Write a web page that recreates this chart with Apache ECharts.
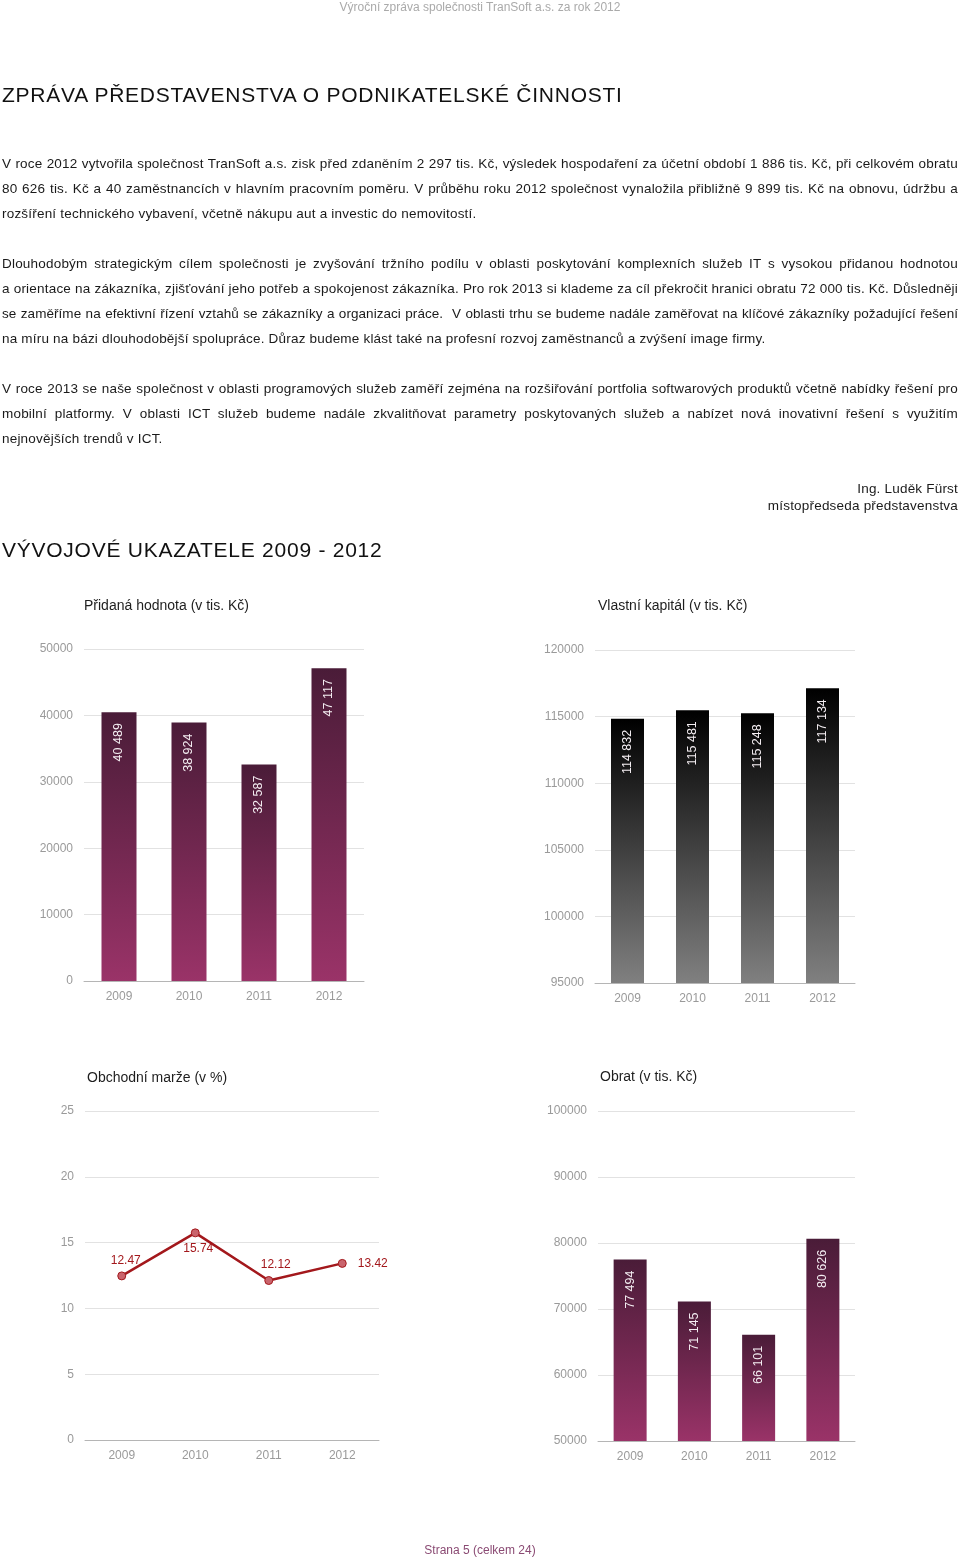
<!DOCTYPE html>
<html>
<head>
<meta charset="utf-8">
<script src="https://cdn.jsdelivr.net/npm/echarts@6/dist/echarts.min.js"></script>
<style>
  html, body { margin:0; padding:0; background:#fff; }
  body { width:960px; height:1559px; position:relative; overflow:hidden; font-family:"Liberation Sans", Arial, sans-serif; }
  #chart { position:absolute; left:0; top:0; width:960px; height:1559px; }
  .t { position:absolute; white-space:nowrap; color:#111; }
  .hdr { left:0; width:960px; top:0; text-align:center; font-size:12px; color:#aaa; }
  .h1 { left:2px; font-size:21px; letter-spacing:0.75px; color:#111; }
  .para { position:absolute; left:2px; width:956px; font-size:13.5px; letter-spacing:0.2px; color:#1a1a1a; }
  .ln { height:25px; line-height:25px; text-align:justify; text-align-last:justify; white-space:nowrap; }
  .ln.last { text-align:left; text-align-last:left; }
  .ln.tight { letter-spacing:0.05px; }
  .sig { right:2px; font-size:13.5px; letter-spacing:0.2px; text-align:right; color:#1a1a1a; }
  .foot { left:0; width:960px; top:1543px; text-align:center; font-size:12px; color:#8a4a73; }
</style>
</head>
<body>
<div id="chart"></div>
<div class="t hdr">Výroční zpráva společnosti TranSoft a.s. za rok 2012</div>
<div class="t h1" style="top:83px;">ZPRÁVA PŘEDSTAVENSTVA O PODNIKATELSKÉ ČINNOSTI</div>
<div class="para" style="top:151px;">
  <div class="ln">V roce 2012 vytvořila společnost TranSoft a.s. zisk před zdaněním 2 297 tis. Kč, výsledek hospodaření za účetní období 1 886 tis. Kč, při celkovém obratu</div>
  <div class="ln">80 626 tis. Kč a 40 zaměstnancích v hlavním pracovním poměru. V průběhu roku 2012 společnost vynaložila přibližně 9 899 tis. Kč na obnovu, údržbu a</div>
  <div class="ln last">rozšíření technického vybavení, včetně nákupu aut a investic do nemovitostí.</div>
</div>
<div class="para" style="top:251px;">
  <div class="ln">Dlouhodobým strategickým cílem společnosti je zvyšování tržního podílu v oblasti poskytování komplexních služeb IT s vysokou přidanou hodnotou</div>
  <div class="ln">a orientace na zákazníka, zjišťování jeho potřeb a spokojenost zákazníka. Pro rok 2013 si klademe za cíl překročit hranici obratu 72 000 tis. Kč. Důsledněji</div>
  <div class="ln tight">se zaměříme na efektivní řízení vztahů se zákazníky a organizaci práce.&nbsp; V oblasti trhu se budeme nadále zaměřovat na klíčové zákazníky požadující řešení</div>
  <div class="ln last">na míru na bázi dlouhodobější spolupráce. Důraz budeme klást také na profesní rozvoj zaměstnanců a zvýšení image firmy.</div>
</div>
<div class="para" style="top:376px;">
  <div class="ln">V roce 2013 se naše společnost v oblasti programových služeb zaměří zejména na rozšiřování portfolia softwarových produktů včetně nabídky řešení pro</div>
  <div class="ln">mobilní platformy. V oblasti ICT služeb budeme nadále zkvalitňovat parametry poskytovaných služeb a nabízet nová inovativní řešení s využitím</div>
  <div class="ln last">nejnovějších trendů v ICT.</div>
</div>
<div class="t sig" style="top:481px;">Ing. Luděk Fürst</div>
<div class="t sig" style="top:498px;">místopředseda představenstva</div>
<div class="t h1" style="top:538px;">VÝVOJOVÉ UKAZATELE 2009 - 2012</div>
<div class="t foot">Strana 5 (celkem 24)</div>

<script>
// ---- data ----
var years = ['2009', '2010', '2011', '2012'];
var pridanaHodnota = [40489, 38924, 32587, 47117];
var vlastniKapital = [114832, 115481, 115248, 117134];
var obchodniMarze = [12.47, 15.74, 12.12, 13.42];
var obrat = [77494, 71145, 66101, 80626];
var titles = ['Přidaná hodnota (v tis. Kč)', 'Vlastní kapitál (v tis. Kč)', 'Obchodní marže (v %)', 'Obrat (v tis. Kč)'];
var axisRanges = [[0, 50000, 10000], [95000, 120000, 5000], [0, 25, 5], [50000, 100000, 10000]];

// ---- layout/styles ----
var font = '"Liberation Sans", Arial, sans-serif';
var grids = [
  {left: 84, top: 649, width: 280, height: 332},
  {left: 595, top: 650, width: 260, height: 333},
  {left: 85, top: 1111, width: 294, height: 329},
  {left: 598, top: 1111, width: 257, height: 330}
];
var titlePos = [[84, 599], [598, 599], [87, 1071], [600, 1070]];
var purple = new echarts.graphic.LinearGradient(0, 0, 0, 1, [
  {offset: 0, color: '#4a1c38'}, {offset: 1, color: '#9a3368'}]);
var gray = new echarts.graphic.LinearGradient(0, 0, 0, 1, [
  {offset: 0, color: '#000000'}, {offset: 1, color: '#808080'}]);
function fmt(v) { return String(v).replace(/\B(?=(\d{3})+(?!\d))/g, ' '); }

var barLabel = {
  show: true, position: 'insideTop', distance: 11, rotate: 90,
  align: 'right', verticalAlign: 'middle',
  color: '#f4eef2', fontSize: 12.5, fontFamily: font,
  formatter: function (p) { return fmt(p.value); }
};

var xAxes = [], yAxes = [];
for (var i = 0; i < 4; i++) {
  xAxes.push({
    type: 'category', gridIndex: i, data: years,
    axisLine: {show: true, lineStyle: {color: '#b5b5b5', width: 1}},
    axisTick: {show: false},
    axisLabel: {color: '#9a9a9a', fontSize: 12, fontFamily: font, margin: 10}
  });
  yAxes.push({
    type: 'value', gridIndex: i,
    min: axisRanges[i][0], max: axisRanges[i][1], interval: axisRanges[i][2],
    axisLine: {show: false}, axisTick: {show: false},
    axisLabel: {color: '#9a9a9a', fontSize: 12, fontFamily: font, margin: 11,
      formatter: function (v) { return String(v); }},
    splitLine: {lineStyle: {color: '#e2e2e2', width: 1}}
  });
}

var lineLabelCfg = [
  {position: 'top', offset: [4, 0]},
  {position: 'bottom', offset: [3, 0]},
  {position: 'top', offset: [7, 0]},
  {position: 'right', distance: 11}
];
var lineData = obchodniMarze.map(function (v, k) {
  return {value: v, label: lineLabelCfg[k]};
});

var option = {
  animation: false,
  title: titles.map(function (t, k) {
    return {text: t, left: titlePos[k][0], top: titlePos[k][1], padding: 0,
      textStyle: {fontSize: 14, fontWeight: 'normal', color: '#1e1e1e', fontFamily: font}};
  }),
  grid: grids,
  xAxis: xAxes,
  yAxis: yAxes,
  series: [
    {type: 'bar', xAxisIndex: 0, yAxisIndex: 0, data: pridanaHodnota, barWidth: 35,
      itemStyle: {color: purple}, label: barLabel},
    {type: 'bar', xAxisIndex: 1, yAxisIndex: 1, data: vlastniKapital, barWidth: 33,
      itemStyle: {color: gray}, label: barLabel},
    {type: 'line', xAxisIndex: 2, yAxisIndex: 2, data: lineData,
      symbol: 'circle', symbolSize: 8,
      lineStyle: {color: '#a3181c', width: 2.5},
      itemStyle: {color: '#c9646c', borderColor: '#a3181c', borderWidth: 1},
      label: {show: true, color: '#a3181c', fontSize: 12, fontFamily: font}},
    {type: 'bar', xAxisIndex: 3, yAxisIndex: 3, data: obrat, barWidth: 33,
      itemStyle: {color: purple}, label: barLabel}
  ]
};
var chart = echarts.init(document.getElementById('chart'), null, {renderer: 'canvas'});
chart.setOption(option);
</script>
</body>
</html>
